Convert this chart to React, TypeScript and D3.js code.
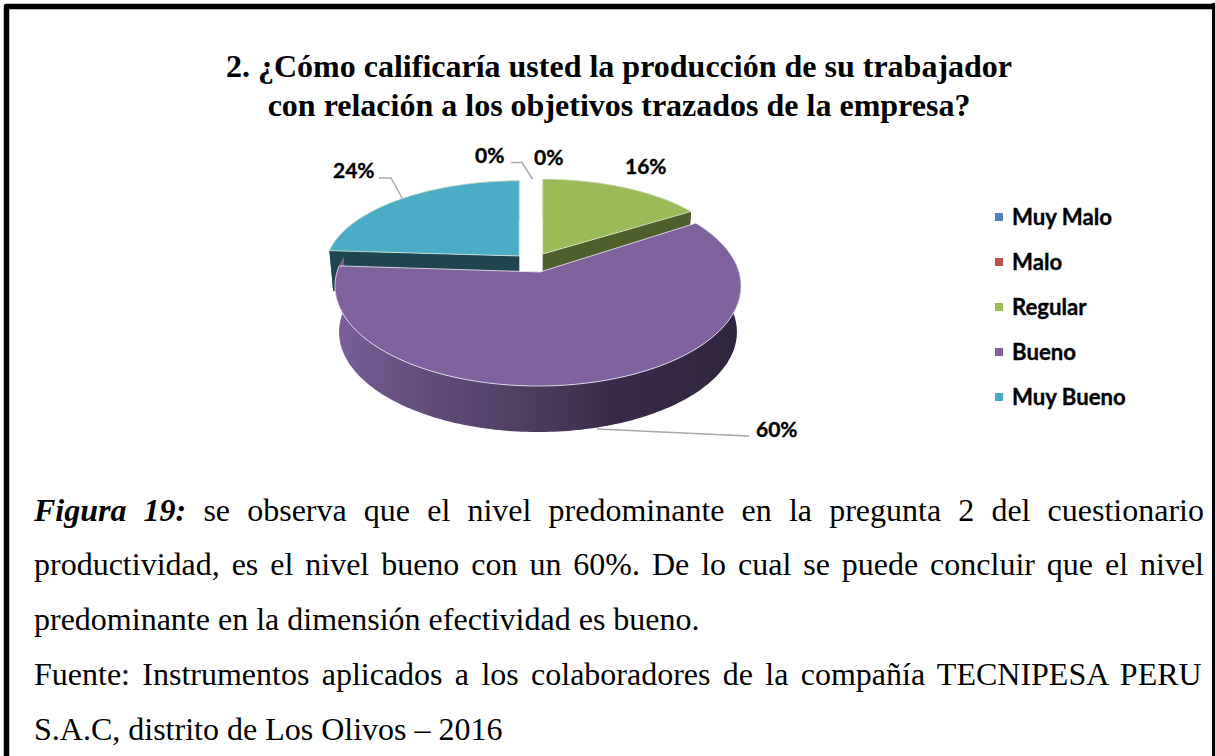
import React from "react";
import * as d3 from "d3";

const categories = ["Muy Malo", "Malo", "Regular", "Bueno", "Muy Bueno"];
const values = [0, 0, 16, 60, 24];
const colors = ["#4F81BD", "#C0504D", "#9BBB59", "#7F619E", "#4BACC6"];
const sideColors = ["#2C4D75", "#772C2A", "#4F5F2C", "#3E2F4F", "#1F4550"];
const titleLines = ["2. ¿Cómo calificaría usted la producción de su trabajador", "con relación a los objetivos trazados de la empresa?"];
const captionLines = [
  { bold: "Figura 19:", text: " se observa que el nivel predominante en la pregunta 2 del cuestionario", justify: true },
  { bold: "", text: "productividad, es el nivel bueno con un 60%. De lo cual se puede concluir que el nivel", justify: true },
  { bold: "", text: "predominante en la dimensión efectividad es bueno.", justify: false },
  { bold: "", text: "Fuente: Instrumentos aplicados a los colaboradores de la compañía TECNIPESA PERU", justify: true },
  { bold: "", text: "S.A.C, distrito de Los Olivos – 2016", justify: false },
];

const W = 1215, H = 756;
const SERIF = "'Liberation Serif', serif";
const SANS = "Lato, sans-serif";
const CAP = 32;
const capBase = [521, 575, 630, 685, 740];

// perspective projection of the pie's ground plane
const d = 7.14, f = 1435, g = 700;
const apexX = 540, apexY = 272, depth = 46;
type Frame = { x: number; y: number; sx: number; sy: number };
const project = (theta: number, r: number, fr: Frame): [number, number] => {
  const u = r * Math.sin(theta), v = -r * Math.cos(theta);
  return [fr.x + fr.sx * (f * u) / (d - v), fr.y + fr.sy * (g * v) / (d - v)];
};
const line = d3.line();
const arcPts = (a0: number, a1: number, fr: Frame) => {
  const n = Math.max(2, Math.ceil(Math.abs(a1 - a0) / 0.02));
  return d3.range(n + 1).map((i) => project(a0 + ((a1 - a0) * i) / n, 1, fr));
};
const pieAngles = d3.pie<number>().sort(null)(values);
const frames: Record<number, Frame> = {
  2: { x: 542.7, y: 254, sx: 0.94, sy: 0.87 },
  3: { x: apexX - 2, y: apexY, sx: 1, sy: 1 },
  4: { x: 519.3, y: 256, sx: 0.955, sy: 0.875 },
};
const lower = (fr: Frame, k: number): Frame => ({ x: fr.x, y: fr.y + depth * k, sx: fr.sx * 0.98, sy: fr.sy });

const legendY = d3.scalePoint<string>().domain(categories).range([217, 397]);

const measure = (font: string, s: string) => {
  const ctx = document.createElement("canvas").getContext("2d")!;
  ctx.font = font;
  return ctx.measureText(s).width;
};

function Slice({ i }: { i: number }) {
  const a = pieAngles[i], fr = frames[i];
  const top = [[fr.x, fr.y] as [number, number], ...arcPts(a.startAngle, a.endAngle, fr)];
  return <path d={line(top)! + "Z"} fill={colors[i]} stroke="#e4ecd8" strokeOpacity={0.75} strokeWidth={1} />;
}
function Wall({ i }: { i: number }) {
  const a = pieAngles[i], fr = frames[i], lo = lower(fr, 0.875);
  const rim = arcPts(a.startAngle, a.endAngle, fr);
  const rimLo = arcPts(a.startAngle, a.endAngle, lo);
  const apex = [fr.x, fr.y] as [number, number], apexLo = [lo.x, lo.y] as [number, number];
  const outer = [...rim, ...rimLo.slice().reverse()];
  const startFace = [apex, rim[0], rimLo[0], apexLo];
  const endFace = [apex, rim[rim.length - 1], rimLo[rimLo.length - 1], apexLo];
  return (
    <g fill={sideColors[i]}>
      <path d={line(outer)! + "Z"} />
      <path d={line(startFace)! + "Z"} />
      <path d={line(endFace)! + "Z"} />
    </g>
  );
}

export default function App() {
  const purple = frames[3];
  const purpleLow = lower(purple, 1);
  const frontTop = arcPts(Math.PI * 0.45, Math.PI * 1.55, purple);
  const frontLow = arcPts(Math.PI * 0.45, Math.PI * 1.55, purpleLow);
  const capFont = `${CAP}px 'Liberation Serif'`;
  const capBold = `italic bold ${CAP}px 'Liberation Serif'`;
  const capX0 = 34, capX1 = 1204;
  const lead = (pts: [number, number][], k: number) => (
    <path key={k} d={line(pts)!} fill="none" stroke="#a6a6a6" strokeWidth={1.4} />
  );
  const pct = (v: number) => `${v}%`;
  const labelStyle = { fontFamily: SANS, fontWeight: 700, fontSize: 21, fill: "#000", stroke: "#000", strokeWidth: 0.35 };
  const legendStyle = { ...labelStyle, fontSize: 22.2 };
  return (
    <svg width={W} height={H} style={{ position: "fixed", left: 0, top: 0, background: "#fff" }}>
      <defs>
        <linearGradient id="sideGrad" gradientUnits="userSpaceOnUse" x1={335} x2={740} y1={0} y2={0}>
          <stop offset="0" stopColor="#7A5F98" />
          <stop offset="0.18" stopColor="#66507F" />
          <stop offset="0.5" stopColor="#4C3B5F" />
          <stop offset="0.68" stopColor="#3A2B49" />
          <stop offset="1" stopColor="#30253E" />
        </linearGradient>
      </defs>
      <path d={`M6.5 756V6.5H1212.5`} fill="none" stroke="#000" strokeWidth={5.5} strokeLinejoin="round" />
      <path d={`M1214 3V756`} fill="none" stroke="#000" strokeWidth={4} />
      {titleLines.map((t, i) => (
        <text key={i} x={619} y={77 + i * 39} textAnchor="middle" fontFamily={SERIF} fontWeight={700} fontSize={32} fill="#000">{t}</text>
      ))}

      <Wall i={2} />
      <Wall i={4} />
      <Slice i={2} />
      <Slice i={4} />
      <path d={line([...frontTop, ...frontLow.slice().reverse()])! + "Z"} fill="url(#sideGrad)" />
      <path d={line([[purple.x + 2, purple.y], ...arcPts(pieAngles[3].startAngle, pieAngles[3].endAngle, purple)])! + "Z"} fill={colors[3]} stroke="#e8e4ee" strokeOpacity={0.85} strokeWidth={1} />

      {lead([[379, 178], [391, 178], [402, 198]], 0)}
      {lead([[511, 162.5], [522, 162.5], [532.5, 179]], 1)}
      {lead([[597, 429], [737, 435.5], [749, 436]], 2)}
      <text x={333} y={178} {...labelStyle}>{pct(values[4])}</text>
      <text x={475} y={163} {...labelStyle}>{pct(values[0])}</text>
      <text x={534} y={165} {...labelStyle}>{pct(values[1])}</text>
      <text x={625} y={174} {...labelStyle}>{pct(values[2])}</text>
      <text x={756} y={437} {...labelStyle}>{pct(values[3])}</text>

      {categories.map((c, i) => (
        <g key={c}>
          <rect x={995} y={legendY(c)! - 4} width={8} height={8} fill={colors[i]} />
          <text x={1012} y={legendY(c)! + 8} {...legendStyle}>{c}</text>
        </g>
      ))}

      {captionLines.map((l, i) => {
        const natural = measure(capBold, l.bold) + measure(capFont, l.text);
        const spaces = (l.bold + l.text).split(" ").length - 1;
        const ws = l.justify ? (capX1 - capX0 - natural) / spaces : 0;
        return (
          <text key={i} x={capX0} y={capBase[i]} fontFamily={SERIF} fontSize={CAP} fill="#000" wordSpacing={ws} xmlSpace="preserve">
            {l.bold ? <tspan fontWeight={700} fontStyle="italic">{l.bold}</tspan> : null}
            <tspan>{l.text}</tspan>
          </text>
        );
      })}
    </svg>
  );
}
